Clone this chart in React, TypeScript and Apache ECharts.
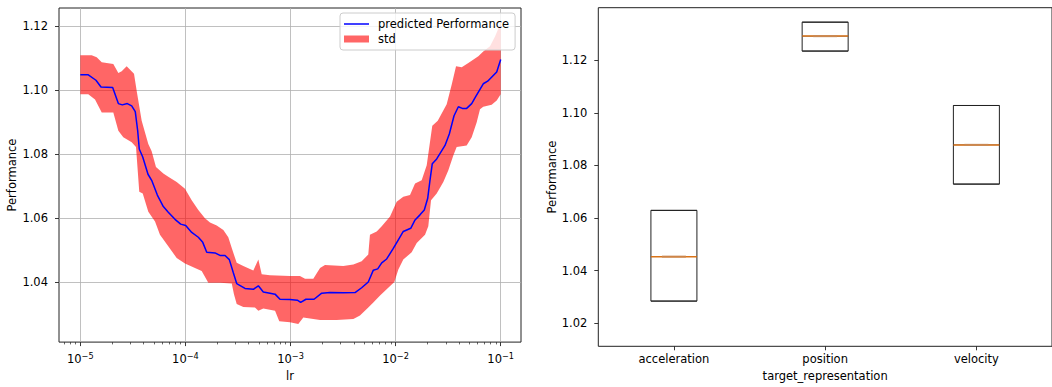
import React, { useEffect, useRef } from "react";
import * as echarts from "echarts";

// ---- Left panel: predicted performance vs learning rate (x stored as log10(lr)) ----
const lineLogLr = [
  -5.0, -4.924, -4.851, -4.803, -4.692, -4.638, -4.6, -4.553, -4.511, -4.477, -4.454, -4.439, -4.406,
  -4.356, -4.321, -4.267, -4.21, -4.163, -4.099, -4.045, -3.997, -3.94, -3.877, -3.835, -3.797, -3.718,
  -3.671, -3.623, -3.582, -3.544, -3.512, -3.433, -3.354, -3.306, -3.259, -3.195, -3.147, -3.1, -3.005,
  -2.935, -2.903, -2.853, -2.776, -2.703, -2.624, -2.498, -2.386, -2.323, -2.26, -2.212, -2.17, -2.132,
  -2.085, -2.022, -1.974, -1.927, -1.856, -1.815, -1.768, -1.727, -1.695, -1.673, -1.651, -1.609, -1.53,
  -1.489, -1.444, -1.403, -1.365, -1.324, -1.276, -1.238, -1.166, -1.124, -1.038, -1.0,
];
const linePerf = [
  1.1048, 1.1048, 1.1031, 1.101, 1.1008, 1.0958, 1.0954, 1.0958, 1.0951, 1.0933, 1.0873, 1.0816, 1.0791,
  1.0737, 1.0718, 1.0672, 1.0636, 1.0618, 1.0596, 1.0581, 1.0577, 1.0555, 1.054, 1.0524, 1.0493, 1.0491,
  1.0483, 1.0483, 1.047, 1.0429, 1.0395, 1.038, 1.0377, 1.0388, 1.0369, 1.0365, 1.0362, 1.0346, 1.0345,
  1.0343, 1.0336, 1.0346, 1.0346, 1.0365, 1.0367, 1.0366, 1.0367, 1.0382, 1.04, 1.0437, 1.0441, 1.046,
  1.0472, 1.0505, 1.0532, 1.0558, 1.0568, 1.0594, 1.061, 1.0625, 1.0661, 1.0718, 1.077, 1.0785, 1.0827,
  1.0863, 1.092, 1.0948, 1.0943, 1.0943, 1.0958, 1.098, 1.102, 1.1028, 1.1057, 1.1096,
];
const upperLogLr = [
  -5.0, -4.892, -4.844, -4.796, -4.686, -4.638, -4.606, -4.559, -4.489, -4.463, -4.416, -4.353, -4.321,
  -4.28, -4.21, -4.163, -4.083, -4.004, -3.94, -3.877, -3.814, -3.766, -3.702, -3.639, -3.592, -3.559,
  -3.512, -3.449, -3.354, -3.306, -3.274, -3.195, -3.005, -2.91, -2.862, -2.783, -2.719, -2.672, -2.498,
  -2.402, -2.323, -2.26, -2.244, -2.18, -2.132, -2.053, -1.99, -1.927, -1.863, -1.815, -1.752, -1.704,
  -1.651, -1.599, -1.514, -1.466, -1.425, -1.371, -1.308, -1.213, -1.166, -1.102, -1.054, -1.0,
];
const upperPerf = [
  1.1109, 1.1109, 1.1103, 1.1087, 1.1082, 1.1054, 1.1059, 1.1075, 1.1051, 1.0997, 1.0904, 1.0832, 1.0809,
  1.076, 1.0739, 1.0729, 1.0713, 1.0692, 1.0656, 1.0625, 1.0599, 1.0586, 1.0577, 1.0563, 1.054, 1.0506,
  1.046, 1.045, 1.0436, 1.047, 1.0424, 1.0421, 1.0419, 1.0419, 1.041, 1.041, 1.0444, 1.0453, 1.045,
  1.0455, 1.0465, 1.0486, 1.0548, 1.0558, 1.0574, 1.0605, 1.0651, 1.0667, 1.0672, 1.0708, 1.0718, 1.0765,
  1.0889, 1.0904, 1.0956, 1.1018, 1.1075, 1.1072, 1.1085, 1.1106, 1.1121, 1.1137, 1.1168, 1.121,
];
const lowerLogLr = [
  -5.0, -4.924, -4.86, -4.796, -4.686, -4.638, -4.591, -4.511, -4.47, -4.439, -4.406, -4.353, -4.289,
  -4.242, -4.163, -4.083, -4.004, -3.909, -3.845, -3.782, -3.671, -3.559, -3.538, -3.512, -3.449, -3.338,
  -3.306, -3.259, -3.147, -3.107, -3.005, -2.926, -2.878, -2.783, -2.719, -2.56, -2.402, -2.339, -2.26,
  -2.212, -2.148, -2.085, -2.012, -1.974, -1.927, -1.847, -1.799, -1.72, -1.689, -1.663, -1.609, -1.546,
  -1.499, -1.451, -1.419, -1.324, -1.276, -1.229, -1.197, -1.166, -1.086, -1.038, -1.0,
];
const lowerPerf = [
  1.0987, 1.0987, 1.0971, 1.093, 1.093, 1.0873, 1.0853, 1.0837, 1.0822, 1.0682, 1.0677, 1.062, 1.0589,
  1.0548, 1.0512, 1.0475, 1.0458, 1.0444, 1.0434, 1.0398, 1.0398, 1.0395, 1.0362, 1.0331, 1.0322, 1.032,
  1.031, 1.0317, 1.031, 1.0277, 1.0274, 1.0269, 1.0289, 1.0284, 1.0281, 1.0281, 1.0284, 1.0295, 1.032,
  1.0336, 1.0358, 1.0377, 1.04, 1.0439, 1.047, 1.0493, 1.0522, 1.0548, 1.0574, 1.0656, 1.0677, 1.0713,
  1.0749, 1.0796, 1.0822, 1.0827, 1.0853, 1.0899, 1.094, 1.0948, 1.0954, 1.0968, 1.0987,
];
const lrTickExps = [-5, -4, -3, -2, -1];
const leftPerfTicks = [1.04, 1.06, 1.08, 1.1, 1.12];

// ---- Right panel: box plot per target_representation ----
const categories = ["acceleration", "position", "velocity"];
const boxQ1 = [1.0284, 1.1235, 1.0729];
const boxMedian = [1.0453, 1.1292, 1.0878];
const boxQ3 = [1.0629, 1.1345, 1.1028];
const rightPerfTicks = [1.02, 1.04, 1.06, 1.08, 1.1, 1.12];

const FONT = "DejaVu Sans";
const TXT = "#000";
const FS = 11.5;

export default function App() {
  const ref = useRef<HTMLDivElement>(null);
  useEffect(() => {
    if (!ref.current) return;
    const chart = echarts.init(ref.current, undefined, { renderer: "svg" });

    const minorTicks: number[] = [];
    for (let e = -6; e <= -1; e++) {
      for (let k = 2; k <= 9; k++) minorTicks.push(e + Math.log10(k));
    }
    const xMin = -5.2027;
    const xMax = -0.8069;
    const minorIn = minorTicks.filter((v) => v > xMin && v < xMax);

    const linePts = lineLogLr.map((x, i) => [x, linePerf[i]]);
    const bandPts = [
      ...upperLogLr.map((x, i) => [x, upperPerf[i]]),
      ...lowerLogLr.map((x, i) => [x, lowerPerf[i]]).reverse(),
    ];

    const labelStyle = { fontFamily: FONT, fontSize: FS, color: TXT };
    const nameStyle = { fontFamily: FONT, fontSize: FS, color: TXT };

    const option: any = {
      animation: false,
      backgroundColor: "#fff",
      grid: [
        { left: 59, top: 8, width: 462, height: 337, show: true, borderColor: "#222", borderWidth: 1, backgroundColor: "transparent", containLabel: false },
        { left: 598.3, top: 7.7, width: 462, height: 342, show: true, borderColor: "#222", borderWidth: 1, backgroundColor: "transparent", containLabel: false },
      ],
      legend: {
        orient: "vertical",
        left: 340,
        top: 13,
        itemWidth: 25,
        itemHeight: 7,
        itemGap: 3,
        padding: [5, 6, 5, 4],
        backgroundColor: "rgba(255,255,255,0.8)",
        borderColor: "#cccccc",
        borderWidth: 1,
        borderRadius: 3,
        textStyle: { fontFamily: FONT, fontSize: FS, color: TXT, padding: [0, 0, 0, 4] },
        data: [
          {
            name: "predicted Performance",
            icon: "path://M0,0L25,0L25,1.5L0,1.5Z",
            itemStyle: { color: "#0000ff", borderWidth: 0 },
          },
          { name: "std", icon: "rect", itemStyle: { color: "rgba(255,0,0,0.6)", borderWidth: 0 } },
        ],
      },
      xAxis: [
        {
          type: "value",
          gridIndex: 0,
          min: xMin,
          max: xMax,
          position: "bottom",
          name: "lr",
          nameLocation: "middle",
          nameGap: 25,
          nameTextStyle: nameStyle,
          axisLine: { show: false },
          axisTick: { show: true, length: 4, lineStyle: { color: "#222", width: 0.9 }, customValues: lrTickExps },
          axisLabel: {
            show: true,
            margin: 10,
            customValues: lrTickExps,
            formatter: (v: number) => `{b|10}{s|\u2212${Math.abs(Math.round(v))}}`,
            rich: {
              b: { fontFamily: FONT, fontSize: FS, color: TXT },
              s: { fontFamily: FONT, fontSize: 8.2, color: TXT, padding: [0, 0, 6, 0] },
            },
          },
          splitLine: { show: true, lineStyle: { color: "#b0b0b0", width: 0.8 } },
        },
        {
          type: "value",
          gridIndex: 0,
          min: xMin,
          max: xMax,
          position: "bottom",
          axisLine: { show: false },
          axisTick: { show: true, length: 2.3, lineStyle: { color: "#222", width: 0.7 }, customValues: minorIn },
          axisLabel: { show: false },
          splitLine: { show: false },
        },
        {
          type: "category",
          gridIndex: 1,
          data: categories,
          position: "bottom",
          boundaryGap: true,
          name: "target_representation",
          nameLocation: "middle",
          nameGap: 23.7,
          nameTextStyle: nameStyle,
          axisLine: { show: false },
          axisTick: { show: true, alignWithLabel: true, length: 4, lineStyle: { color: "#222", width: 0.9 } },
          axisLabel: { ...labelStyle, margin: 6.5 },
          splitLine: { show: false },
        },
      ],
      yAxis: [
        {
          type: "value",
          gridIndex: 0,
          min: 1.0212,
          max: 1.1257,
          name: "Performance",
          nameLocation: "middle",
          nameGap: 39,
          nameTextStyle: nameStyle,
          axisLine: { show: false },
          axisTick: { show: true, length: 4, lineStyle: { color: "#222", width: 0.9 }, customValues: leftPerfTicks },
          axisLabel: { ...labelStyle, margin: 11, customValues: leftPerfTicks, formatter: (v: number) => v.toFixed(2) },
          splitLine: { show: true, lineStyle: { color: "#b0b0b0", width: 0.8 } },
        },
        {
          type: "value",
          gridIndex: 1,
          min: 1.0112,
          max: 1.14,
          name: "Performance",
          nameLocation: "middle",
          nameGap: 38.3,
          nameTextStyle: nameStyle,
          axisLine: { show: false },
          axisTick: { show: true, length: 4, lineStyle: { color: "#222", width: 0.9 }, customValues: rightPerfTicks },
          axisLabel: { ...labelStyle, margin: 11, customValues: rightPerfTicks, formatter: (v: number) => v.toFixed(2) },
          splitLine: { show: false },
        },
      ],
      series: [
        {
          name: "std",
          type: "custom",
          xAxisIndex: 0,
          yAxisIndex: 0,
          z: 1,
          itemStyle: { color: "rgba(255,0,0,0.6)" },
          data: bandPts,
          encode: { x: 0, y: 1 },
          renderItem: (params: any, api: any) => {
            if (params.dataIndex !== 0) return null;
            const pts = bandPts.map((p) => api.coord(p));
            return {
              type: "polygon",
              shape: { points: pts },
              style: { fill: "rgba(255,0,0,0.6)", stroke: "none" },
            };
          },
        },
        {
          name: "predicted Performance",
          type: "line",
          xAxisIndex: 0,
          yAxisIndex: 0,
          z: 3,
          symbol: "none",
          data: linePts,
          lineStyle: { color: "#0000ff", width: 1.5 },
          itemStyle: { color: "#0000ff" },
        },
        {
          name: "box",
          type: "boxplot",
          xAxisIndex: 2,
          yAxisIndex: 1,
          boxWidth: [46, 46],
          itemStyle: { color: "#fff", borderColor: "#222", borderWidth: 1 },
          data: categories.map((_, i) => [boxQ1[i], boxQ1[i], boxMedian[i], boxQ3[i], boxQ3[i]]),
        },
        {
          name: "median",
          type: "scatter",
          xAxisIndex: 2,
          yAxisIndex: 1,
          z: 5,
          symbol: "rect",
          symbolSize: [46, 1.5],
          itemStyle: { color: "#ff7f0e" },
          data: categories.map((c, i) => [c, boxMedian[i]]),
        },
        {
          name: "median core",
          type: "scatter",
          xAxisIndex: 2,
          yAxisIndex: 1,
          z: 6,
          symbol: "rect",
          symbolSize: [24, 2.2],
          itemStyle: { color: "#c98a55" },
          data: categories.map((c, i) => [c, boxMedian[i]]),
        },
      ],
    };
    chart.setOption(option);
    return () => chart.dispose();
  }, []);
  return (
    <div
      ref={ref}
      style={{ position: "absolute", left: 0, top: 0, width: 1052, height: 387, background: "#fff" }}
    />
  );
}
